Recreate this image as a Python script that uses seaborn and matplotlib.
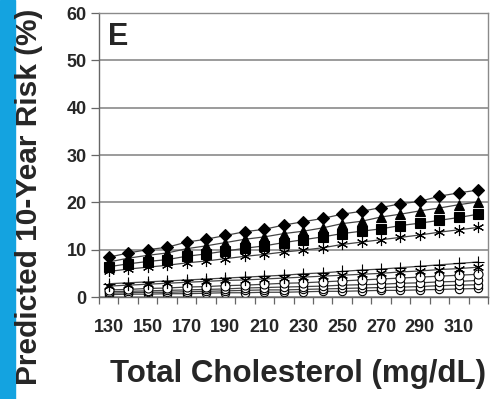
import matplotlib
matplotlib.use("Agg")
import matplotlib.pyplot as plt
import seaborn as sns
from matplotlib.patches import Rectangle

sns.set_theme(style="white")
plt.rcParams['font.family'] = ['Liberation Sans', 'DejaVu Sans']

cholesterol = [130, 140, 150, 160, 170, 180, 190, 200, 210, 220,
               230, 240, 250, 260, 270, 280, 290, 300, 310, 320]
tick_labels = [130, 150, 170, 190, 210, 230, 250, 270, 290, 310]

s_diamond = [8.4, 9.3, 10.0, 10.5, 11.6, 12.2, 13.0, 13.8, 14.3, 15.2,
             15.9, 16.6, 17.5, 18.1, 18.9, 19.7, 20.2, 21.3, 22.0, 22.6]
s_triangle = [7.4, 8.2, 8.8, 9.3, 10.2, 10.8, 11.5, 12.2, 12.7, 13.4,
              13.9, 14.6, 15.5, 16.0, 16.9, 17.5, 18.2, 18.8, 19.5, 20.1]
s_square = [6.4, 7.0, 7.5, 7.9, 8.6, 9.1, 9.7, 10.3, 10.8, 11.5,
            12.1, 12.7, 13.4, 13.9, 14.4, 15.1, 15.6, 16.2, 16.8, 17.5]
s_aster = [5.4, 5.9, 6.3, 6.7, 7.2, 7.6, 8.1, 8.6, 9.0, 9.5,
           9.9, 10.4, 11.1, 11.6, 12.1, 12.6, 13.1, 13.7, 14.2, 14.7]
s_plus = [2.8, 3.0, 3.2, 3.4, 3.6, 3.8, 4.0, 4.2, 4.4, 4.6,
          4.9, 5.1, 5.4, 5.7, 5.9, 6.2, 6.5, 6.8, 7.1, 7.4]
s_aster2 = [2.3, 2.5, 2.7, 2.9, 3.1, 3.3, 3.5, 3.6, 3.8, 4.0,
            4.2, 4.4, 4.6, 4.8, 5.0, 5.3, 5.5, 5.8, 6.0, 6.3]
s_circle1 = [1.5, 1.6, 1.8, 1.9, 2.1, 2.2, 2.4, 2.5, 2.7, 2.9,
             3.0, 3.2, 3.4, 3.6, 3.8, 4.0, 4.2, 4.4, 4.6, 4.8]
s_circle2 = [1.1, 1.2, 1.3, 1.4, 1.5, 1.6, 1.7, 1.9, 2.0, 2.1,
             2.2, 2.3, 2.5, 2.6, 2.7, 2.9, 3.0, 3.2, 3.3, 3.5]
s_circle3 = [0.8, 0.9, 1.0, 1.0, 1.1, 1.2, 1.3, 1.4, 1.5, 1.5,
             1.6, 1.7, 1.8, 1.9, 2.0, 2.1, 2.2, 2.4, 2.5, 2.6]
s_circle4 = [0.5, 0.6, 0.6, 0.7, 0.7, 0.8, 0.9, 0.9, 1.0, 1.0,
             1.1, 1.2, 1.2, 1.3, 1.4, 1.4, 1.5, 1.6, 1.7, 1.8]

fig = plt.figure(figsize=(4.9, 3.99), dpi=100)
ax = fig.add_axes([99/490, 1 - 297/399, 389/490, 284/399])

line_col = '#444444'
series = [
    (s_circle4, 'o', 'white', 6),
    (s_circle3, 'o', 'white', 6),
    (s_circle2, 'o', 'white', 6),
    (s_circle1, 'o', 'white', 6.5),
    (s_aster2, (6, 2, 0), 'black', 8),
    (s_plus, '+', 'black', 9),
    (s_aster, (6, 2, 0), 'black', 8),
    (s_square, 's', 'black', 6.5),
    (s_triangle, '^', 'black', 7.5),
    (s_diamond, 'D', 'black', 6.2),
]
for vals, mk, face, ms in series:
    sns.lineplot(x=cholesterol, y=vals, ax=ax, color=line_col, linewidth=0.9,
                 marker=mk, markersize=ms, markerfacecolor=face,
                 markeredgecolor='black', markeredgewidth=0.8)

ax.set_xlim(125, 325)
ax.set_ylim(0, 60)
ax.set_yticks(range(0, 61, 10))
ax.set_xticks(tick_labels)
ax.set_xticks([125 + 10 * i for i in range(21)], minor=True)
ax.grid(axis='y', color='#8a8a8a', linewidth=1.2)
ax.set_axisbelow(True)
for s in ['top', 'right']:
    ax.spines[s].set_color('#8a8a8a')
    ax.spines[s].set_linewidth(1.0)
for s in ['left', 'bottom']:
    ax.spines[s].set_color('#666666')
    ax.spines[s].set_linewidth(1.0)
ax.tick_params(axis='x', which='major', length=0, pad=16, labelsize=13)
ax.tick_params(axis='x', which='minor', length=5, width=0.9, color='#666666',
               direction='out', bottom=True)
ax.tick_params(axis='y', length=6, width=0.9, color='#666666', direction='out',
               left=True, labelsize=13, pad=3)
for lbl in ax.get_xticklabels() + ax.get_yticklabels():
    lbl.set_fontweight('bold')
ax.set_xlabel('')
ax.set_ylabel('')

ax.text(0.022, 0.97, 'E', transform=ax.transAxes, fontsize=22,
        fontweight='bold', va='top', ha='left')

fig.patches.append(Rectangle((0, 0), 15/490, 1, transform=fig.transFigure,
                             color='#14a3e0', zorder=0))
fig.text(29/490, 1 - 197/399, 'Predicted 10-Year Risk (%)', rotation=90,
         fontsize=21.5, fontweight='bold', ha='center', va='center')
fig.text(298/490, 1 - 374/399, 'Total Cholesterol (mg/dL)', fontsize=22.5,
         fontweight='bold', ha='center', va='center')

fig.savefig('out.png', dpi=100)
